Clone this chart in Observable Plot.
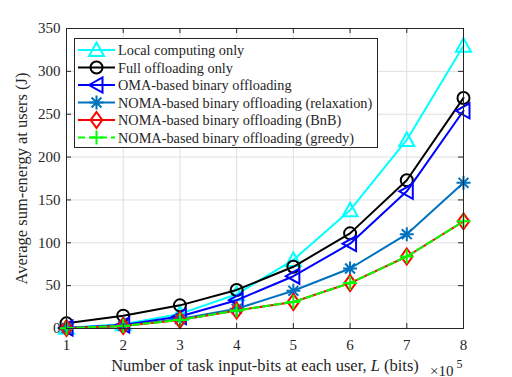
<!DOCTYPE html>
<html>
<head>
<meta charset="utf-8">
<script src="https://cdn.jsdelivr.net/npm/d3@7"></script>
<script src="https://cdn.jsdelivr.net/npm/@observablehq/plot@0.6"></script>
<style>
  html, body { margin: 0; padding: 0; background: #fff; }
  #wrap { position: relative; width: 512px; height: 377px; }
  #legend { position: absolute; left: 0; top: 0; }
</style>
</head>
<body>
<div id="wrap"></div>
<script>
// ---- data ----
const L = [1, 2, 3, 4, 5, 6, 7, 8];
const localOnly   = [0.8, 5, 17, 40, 80, 138, 220, 330];
const fullOffload = [6, 15, 27, 45, 72, 111, 173, 269];
const omaBinary   = [0.6, 4, 14, 33, 61, 99, 160, 254];
const nomaRelax   = [0.4, 3, 11, 23, 44, 70, 110, 170];
const nomaBnB     = [0.4, 3, 10, 21, 31, 53, 84, 125];
const nomaGreedy  = [0.4, 3, 10, 21, 31, 53, 84, 125];
const seriesNames = [
  "Local computing only",
  "Full offloading only",
  "OMA-based binary offloading",
  "NOMA-based binary offloading (relaxation)",
  "NOMA-based binary offloading (BnB)",
  "NOMA-based binary offloading (greedy)"
];
const xTicks = [1, 2, 3, 4, 5, 6, 7, 8];
const yTicks = [0, 50, 100, 150, 200, 250, 300, 350];
const xLabelParts = ["Number of task input-bits at each user, ", "L", " (bits)"];
const yLabel = "Average sum-energy at users (J)";

// ---- custom marker symbols (MATLAB-like) ----
const triUp = {draw(c, s) { const r = Math.sqrt(s / Math.PI); c.moveTo(0, -r); c.lineTo(r, r * 0.8); c.lineTo(-r, r * 0.8); c.closePath(); }};
const triLeft = {draw(c, s) { const r = Math.sqrt(s / Math.PI); c.moveTo(-r, 0); c.lineTo(r * 0.8, -r); c.lineTo(r * 0.8, r); c.closePath(); }};
const star8 = {draw(c, s) { const r = Math.sqrt(s / Math.PI), d = r * 0.707;
  c.moveTo(0, -r); c.lineTo(0, r); c.moveTo(-r, 0); c.lineTo(r, 0);
  c.moveTo(-d, -d); c.lineTo(d, d); c.moveTo(-d, d); c.lineTo(d, -d); }};
const diamondT = {draw(c, s) { const r = Math.sqrt(s / Math.PI); c.moveTo(0, -r); c.lineTo(r * 0.72, 0); c.lineTo(0, r); c.lineTo(-r * 0.72, 0); c.closePath(); }};
const plusS = {draw(c, s) { const r = Math.sqrt(s / Math.PI); c.moveTo(0, -r); c.lineTo(0, r); c.moveTo(-r, 0); c.lineTo(r, 0); }};
const circ = {draw(c, s) { const r = Math.sqrt(s / Math.PI); c.moveTo(r, 0); c.arc(0, 0, r, 0, 2 * Math.PI); }};

const styles = [
  {values: localOnly,   color: "#00FFFF", symbol: triUp,    r: 7.5, dash: null},
  {values: fullOffload, color: "#000000", symbol: circ,     r: 6,   dash: null},
  {values: omaBinary,   color: "#0000FF", symbol: triLeft,  r: 7.5, dash: null},
  {values: nomaRelax,   color: "#0072BD", symbol: star8,    r: 7,   dash: null},
  {values: nomaBnB,     color: "#FF0000", symbol: diamondT, r: 8,   dash: null},
  {values: nomaGreedy,  color: "#00FF00", symbol: plusS,    r: 7,   dash: "7,4"}
];

const rows = [];
styles.forEach((s, i) => s.values.forEach((v, j) => rows.push({series: seriesNames[i], L: L[j], E: v})));

const W = 512, H = 377, mL = 66, mR = 49, mT = 28, mB = 49;
const pw = W - mL - mR, ph = H - mT - mB;
const axisColor = "#262626";
const font = "'Liberation Serif', 'Times New Roman', serif";

const marks = [
  Plot.gridX(xTicks, {stroke: "#dfdfdf", strokeOpacity: 1, strokeWidth: 1}),
  Plot.gridY(yTicks, {stroke: "#dfdfdf", strokeOpacity: 1, strokeWidth: 1}),
];
styles.forEach((s, i) => {
  const d = rows.filter(r => r.series === seriesNames[i]);
  marks.push(Plot.line(d, {x: "L", y: "E", stroke: s.color, strokeWidth: 2, strokeDasharray: s.dash}));
  marks.push(Plot.dot(d, {x: "L", y: "E", symbol: s.symbol, r: s.r, stroke: s.color, strokeWidth: 2, fill: "none"}));
});
marks.push(
  Plot.frame({stroke: axisColor, strokeWidth: 1}),
  Plot.tickX(xTicks, {x: d => d, insetTop: ph - 5, stroke: axisColor, strokeWidth: 1}),
  Plot.tickX(xTicks, {x: d => d, insetBottom: ph - 5, stroke: axisColor, strokeWidth: 1}),
  Plot.tickY(yTicks, {y: d => d, insetRight: pw - 5, stroke: axisColor, strokeWidth: 1}),
  Plot.tickY(yTicks, {y: d => d, insetLeft: pw - 5, stroke: axisColor, strokeWidth: 1}),
  Plot.axisX(xTicks, {tickSize: 0, tickPadding: 11, label: null, fontSize: 15, fill: axisColor}),
  Plot.axisY(yTicks, {tickSize: 0, tickPadding: 6, label: null, fontSize: 15, fill: axisColor}),
  Plot.text([xLabelParts.join("")], {frameAnchor: "bottom", dy: 42, fontSize: 16.5, fill: axisColor, className: "xlab"}),
  Plot.text([yLabel], {frameAnchor: "left", dx: -45, rotate: -90, textAnchor: "middle", fontSize: 16.5, fill: axisColor}),
  Plot.text(["×10"], {frameAnchor: "bottom-right", dx: -10, dy: 47, textAnchor: "end", fontSize: 15, fill: axisColor}),
  Plot.text(["5"], {frameAnchor: "bottom-right", dx: -1, dy: 39, textAnchor: "end", fontSize: 12, fill: axisColor})
);

const chart = Plot.plot({
  width: W, height: H,
  marginLeft: mL, marginRight: mR, marginTop: mT, marginBottom: mB,
  x: {domain: [1, 8]},
  y: {domain: [0, 350]},
  style: {fontFamily: font, fontSize: "15px", background: "#fff", color: axisColor},
  marks
});
const wrap = document.getElementById("wrap");
wrap.appendChild(chart);

// italic "L" in the x-axis label
d3.select(chart).selectAll(".xlab text").each(function() {
  const t = d3.select(this);
  t.text(null);
  xLabelParts.forEach((p, i) => t.append("tspan").attr("font-style", i === 1 ? "italic" : null).text(p));
});

// ---- legend overlay (MATLAB-like box) ----
const lx = 74, ly = 38, lw = 303, lh = 109;
const leg = d3.select(wrap).append("svg").attr("id", "legend")
  .attr("width", W).attr("height", H).style("pointer-events", "none");
const g = leg.append("g").attr("transform", `translate(${lx},${ly})`);
g.append("rect").attr("x", 0.5).attr("y", 0.5).attr("width", lw).attr("height", lh)
  .attr("fill", "#fff").attr("stroke", axisColor).attr("stroke-width", 1);
styles.forEach((s, i) => {
  const cy = 12 + i * 17.5;
  g.append("line").attr("x1", 4).attr("x2", 41).attr("y1", cy).attr("y2", cy)
    .attr("stroke", s.color).attr("stroke-width", 2).attr("stroke-dasharray", s.dash);
  g.append("path").attr("transform", `translate(22.5,${cy})`)
    .attr("d", d3.symbol(s.symbol, Math.PI * s.r * s.r)())
    .attr("fill", "none").attr("stroke", s.color).attr("stroke-width", 2);
  g.append("text").attr("x", 44).attr("y", cy).attr("dy", "0.35em")
    .attr("font-family", font).attr("font-size", 14.3).attr("fill", axisColor)
    .text(seriesNames[i]);
});
</script>
</body>
</html>
